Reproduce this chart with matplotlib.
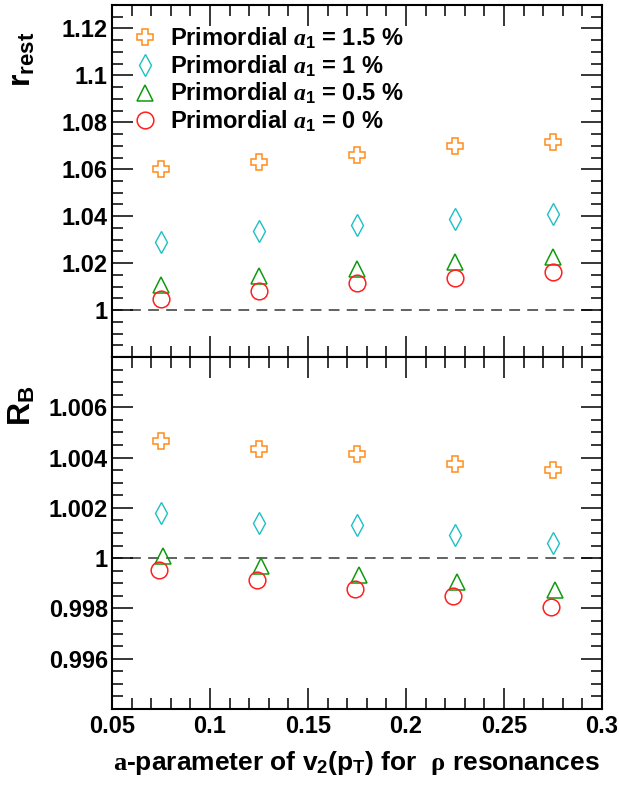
import numpy as np
import matplotlib
matplotlib.use("Agg")
import matplotlib.pyplot as plt
from matplotlib.ticker import MultipleLocator

plt.rcParams['font.family'] = ['Liberation Sans', 'DejaVu Sans']
plt.rcParams['font.weight'] = 'bold'
plt.rcParams['mathtext.fontset'] = 'custom'
plt.rcParams['mathtext.rm'] = 'Liberation Sans:bold'
plt.rcParams['mathtext.bf'] = 'Liberation Sans:bold'
plt.rcParams['mathtext.it'] = 'Liberation Serif:italic'
plt.rcParams['mathtext.sf'] = 'Liberation Serif'
plt.rcParams['mathtext.cal'] = 'Liberation Serif:bold'

# a-parameter values
a_top = [0.075, 0.125, 0.175, 0.225, 0.275]
a_bot_cross = [0.075, 0.125, 0.175, 0.225, 0.275]
a_bot_diam = [0.075, 0.125, 0.175, 0.225, 0.275]
a_bot_tri = [0.076, 0.126, 0.176, 0.226, 0.276]
a_bot_circ = [0.074, 0.124, 0.174, 0.224, 0.274]

# r_rest (top panel)
r_15 = [1.0603, 1.0630, 1.0660, 1.0698, 1.0718]
r_10 = [1.0290, 1.0336, 1.0362, 1.0386, 1.0411]
r_05 = [1.0106, 1.0145, 1.0176, 1.0203, 1.0227]
r_00 = [1.0045, 1.0082, 1.0116, 1.0138, 1.0160]

# R_B (bottom panel)
rb_15 = [1.00464, 1.00434, 1.00414, 1.00376, 1.00350]
rb_10 = [1.00178, 1.00141, 1.00130, 1.00092, 1.00059]
rb_05 = [1.00010, 0.99970, 0.99932, 0.99907, 0.99875]
rb_00 = [0.99951, 0.99913, 0.99878, 0.99848, 0.99807]

labels = ['Primordial $a_1$ = 1.5 %', 'Primordial $a_1$ = 1 %',
          'Primordial $a_1$ = 0.5 %', 'Primordial $a_1$ = 0 %']

c_or = '#ff8c1a'
c_cy = '#1fbfc4'
c_gr = '#109a10'
c_rd = '#ff2020'

fig = plt.figure(figsize=(6.19, 7.87), dpi=100)
ax1 = fig.add_axes([0.181, 0.5464, 0.7916, 0.4473])
ax2 = fig.add_axes([0.181, 0.0991, 0.7916, 0.4473])

def style(ax):
    for s in ax.spines.values():
        s.set_linewidth(1.5)
    ax.tick_params(which='both', direction='in', top=True, right=True, width=1.1)
    ax.tick_params(which='major', length=15, labelsize=17)
    ax.tick_params(which='minor', length=8)
    ax.xaxis.set_major_locator(MultipleLocator(0.05))
    ax.xaxis.set_minor_locator(MultipleLocator(0.01))
    ax.set_xlim(0.05, 0.3)
    ax.axhline(1.0, color='#555555', lw=1.3, ls=(0, (6, 4)), zorder=1)

mk = dict(linestyle='none', mfc='none')

ax1.plot(a_top, r_15, marker='P', ms=12, mec=c_or, mew=1.1, label=labels[0], **mk)
ax1.plot(a_top, r_10, marker='d', ms=11, mec=c_cy, mew=1.0, label=labels[1], **mk)
ax1.plot(a_top, r_05, marker='^', ms=12, mec=c_gr, mew=1.1, label=labels[2], **mk)
ax1.plot(a_top, r_00, marker='o', ms=12, mec=c_rd, mew=1.1, label=labels[3], **mk)
style(ax1)
ax1.set_ylim(0.98, 1.13)
ax1.yaxis.set_minor_locator(MultipleLocator(0.005))
ax1.set_yticks([1.0, 1.02, 1.04, 1.06, 1.08, 1.1, 1.12])
ax1.set_yticklabels(['1', '1.02', '1.04', '1.06', '1.08', '1.1', '1.12'])
ax1.tick_params(axis='x', labelbottom=False)
ax1.tick_params(axis='y', pad=3)
ax1.legend(loc='upper left', frameon=False, fontsize=17, handletextpad=0.45,
           borderaxespad=0.0, labelspacing=0.1, handlelength=1.2,
           bbox_to_anchor=(0.02, 0.968))

ax2.plot(a_bot_cross, rb_15, marker='P', ms=12, mec=c_or, mew=1.1, **mk)
ax2.plot(a_bot_diam, rb_10, marker='d', ms=11, mec=c_cy, mew=1.0, **mk)
ax2.plot(a_bot_tri, rb_05, marker='^', ms=12, mec=c_gr, mew=1.1, **mk)
ax2.plot(a_bot_circ, rb_00, marker='o', ms=12, mec=c_rd, mew=1.1, **mk)
style(ax2)
ax2.set_ylim(0.994, 1.008)
ax2.yaxis.set_minor_locator(MultipleLocator(0.0005))
ax2.set_yticks([0.996, 0.998, 1.0, 1.002, 1.004, 1.006])
ax2.set_yticklabels(['0.996', '0.998', '1', '1.002', '1.004', '1.006'])
ax2.set_xticks([0.05, 0.1, 0.15, 0.2, 0.25, 0.3])
ax2.set_xticklabels(['0.05', '0.1', '0.15', '0.2', '0.25', '0.3'])
ax2.tick_params(axis='x', pad=4)
ax2.tick_params(axis='y', pad=3)

fig.text(0.012, 0.960, r'$\mathrm{r}_{\mathrm{rest}}$', rotation=90, ha='left', va='top', fontsize=23)
fig.text(0.012, 0.510, r'$\mathrm{R}_{\mathrm{B}}$', rotation=90, ha='left', va='top', fontsize=23)
fig.text(0.969, 0.022, r'$\mathcal{a}$-parameter of v$_2$(p$_\mathrm{T}$) for  $\mathsf{\rho}$ resonances',
         ha='right', va='baseline', fontsize=19)

fig.savefig('out.png', dpi=100)
